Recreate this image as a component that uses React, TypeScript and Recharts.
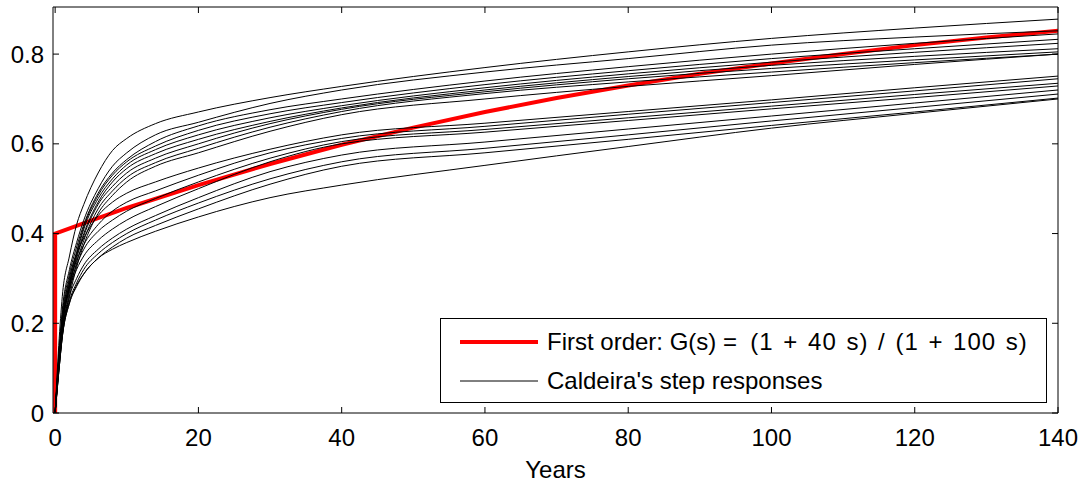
import { LineChart, Line, XAxis, YAxis, Legend } from 'recharts';

// sample times (years) shared by all of Caldeira's step responses
const years = [0, 0.5, 1, 2, 3, 4, 6, 8, 10, 14, 20, 30, 40, 60, 80, 100, 120, 140];

// upper bundle
const u1 = [0, 0.15, 0.26, 0.35, 0.42, 0.465, 0.535, 0.585, 0.612, 0.645, 0.671, 0.703, 0.728, 0.77, 0.805, 0.835, 0.858, 0.878];
const u2 = [0, 0.13, 0.23, 0.32, 0.38, 0.43, 0.5, 0.55, 0.58, 0.62, 0.648, 0.69, 0.72, 0.76, 0.79, 0.82, 0.838, 0.852];
const u3 = [0, 0.12, 0.22, 0.31, 0.37, 0.42, 0.49, 0.535, 0.565, 0.605, 0.64, 0.676, 0.7, 0.74, 0.772, 0.8, 0.824, 0.845];
const u4 = [0, 0.12, 0.21, 0.3, 0.36, 0.415, 0.485, 0.53, 0.56, 0.595, 0.63, 0.667, 0.692, 0.732, 0.763, 0.79, 0.812, 0.833];
const u5 = [0, 0.11, 0.2, 0.29, 0.355, 0.41, 0.478, 0.522, 0.553, 0.587, 0.62, 0.658, 0.685, 0.725, 0.756, 0.782, 0.804, 0.824];
const u6 = [0, 0.11, 0.195, 0.285, 0.35, 0.4, 0.47, 0.515, 0.545, 0.578, 0.61, 0.65, 0.68, 0.72, 0.75, 0.775, 0.795, 0.812];
const u7 = [0, 0.1, 0.19, 0.28, 0.345, 0.395, 0.465, 0.505, 0.535, 0.568, 0.6, 0.645, 0.677, 0.716, 0.745, 0.768, 0.787, 0.805];
const u8 = [0, 0.1, 0.18, 0.27, 0.335, 0.385, 0.455, 0.495, 0.525, 0.558, 0.59, 0.637, 0.672, 0.712, 0.738, 0.76, 0.781, 0.8];
const u9 = [0, 0.09, 0.17, 0.26, 0.325, 0.375, 0.445, 0.485, 0.515, 0.55, 0.58, 0.628, 0.665, 0.7, 0.728, 0.752, 0.777, 0.8];

// lower bundle
const l1 = [0, 0.12, 0.21, 0.3, 0.355, 0.39, 0.44, 0.47, 0.49, 0.515, 0.546, 0.588, 0.62, 0.646, 0.672, 0.698, 0.725, 0.751];
const l2 = [0, 0.115, 0.2, 0.29, 0.34, 0.375, 0.42, 0.45, 0.47, 0.495, 0.53, 0.58, 0.612, 0.639, 0.666, 0.692, 0.718, 0.745];
const l3 = [0, 0.11, 0.195, 0.28, 0.33, 0.365, 0.405, 0.43, 0.45, 0.478, 0.515, 0.568, 0.605, 0.632, 0.658, 0.684, 0.71, 0.735];
const l4 = [0, 0.105, 0.19, 0.275, 0.32, 0.35, 0.385, 0.41, 0.43, 0.46, 0.5, 0.56, 0.6, 0.626, 0.652, 0.678, 0.703, 0.729];
const l5 = [0, 0.1, 0.18, 0.26, 0.3, 0.33, 0.365, 0.39, 0.41, 0.44, 0.48, 0.538, 0.575, 0.604, 0.633, 0.662, 0.691, 0.72];
const l6 = [0, 0.095, 0.175, 0.25, 0.29, 0.32, 0.355, 0.38, 0.4, 0.43, 0.468, 0.522, 0.56, 0.59, 0.62, 0.651, 0.681, 0.711];
const l7 = [0, 0.09, 0.17, 0.245, 0.282, 0.31, 0.345, 0.37, 0.39, 0.418, 0.455, 0.51, 0.55, 0.58, 0.61, 0.641, 0.671, 0.702];
const l8 = [0, 0.09, 0.17, 0.245, 0.285, 0.31, 0.345, 0.365, 0.38, 0.405, 0.437, 0.48, 0.508, 0.552, 0.594, 0.635, 0.668, 0.7];

const caldeira = [u1, u2, u3, u4, u5, u6, u7, u8, u9, l1, l2, l3, l4, l5, l6, l7, l8];

// first order model, jumps to 0.4 at t = 0
const firstOrderYears = [0, 0, 5, 10, 20, 30, 40, 50, 60, 70, 80, 90, 100, 110, 120, 130, 140];
const firstOrderValues = [0, 0.4, 0.429, 0.457, 0.508, 0.555, 0.598, 0.636, 0.671, 0.702, 0.73, 0.756, 0.779, 0.8, 0.82, 0.837, 0.852];

const xTicks = [0, 20, 40, 60, 80, 100, 120, 140];
const yTicks = [0, 0.2, 0.4, 0.6, 0.8];

const FONT = '"Liberation Sans", Arial, sans-serif';
const LEFT = 53;
const RIGHT = 1058;
const TOP = 7;
const BOTTOM = 413;
const TICK = 6;

const toPoints = (ts: number[], vs: number[]) => ts.map((t, i) => ({ t, v: vs[i] }));

const BottomTick = (props: any) => {
  const { x, payload } = props;
  return (
    <g>
      <line x1={x} x2={x} y1={BOTTOM} y2={BOTTOM - TICK} stroke="#000" />
      <text x={x} y={437} textAnchor="middle" dominantBaseline="central" fontSize={24} fontFamily={FONT} fill="#000">
        {payload.value}
      </text>
    </g>
  );
};

const TopTick = (props: any) => {
  const { x } = props;
  return <line x1={x} x2={x} y1={TOP} y2={TOP + TICK} stroke="#000" />;
};

const LeftTick = (props: any) => {
  const { y, payload } = props;
  return (
    <g>
      <line x1={LEFT} x2={LEFT + TICK} y1={y} y2={y} stroke="#000" />
      <text x={LEFT - 9} y={y} textAnchor="end" dominantBaseline="central" fontSize={24} fontFamily={FONT} fill="#000">
        {payload.value}
      </text>
    </g>
  );
};

const RightTick = (props: any) => {
  const { y } = props;
  return <line x1={RIGHT} x2={RIGHT - TICK} y1={y} y2={y} stroke="#000" />;
};

const renderLegend = () => (
  <div
    style={{
      width: 605,
      height: 83,
      border: '1px solid #000',
      background: '#fff',
      fontFamily: FONT,
      fontSize: 24,
      color: '#000',
      position: 'relative',
    }}
  >
    <svg width={110} height={83} style={{ position: 'absolute', left: 0, top: 0 }}>
      <line x1={19} x2={97} y1={23} y2={23} stroke="#ff0000" strokeWidth={4} />
      <line x1={19} x2={97} y1={62} y2={62} stroke="#000" strokeWidth={1} />
    </svg>
    <div style={{ position: 'absolute', left: 106, top: 9, whiteSpace: 'pre', lineHeight: '28px' }}>
      {'First order: G(s) =  '}
      <span style={{ letterSpacing: 1, wordSpacing: 2 }}>{'(1 + 40 s) / (1 + 100 s)'}</span>
    </div>
    <div style={{ position: 'absolute', left: 106, top: 48, whiteSpace: 'pre', lineHeight: '28px' }}>
      {"Caldeira's step responses"}
    </div>
  </div>
);

export default function App() {
  return (
    <div style={{ position: 'absolute', left: 0, top: 0, width: 1087, height: 486, background: '#fff' }}>
      <LineChart width={1087} height={486} margin={{ top: TOP - 1, right: 1087 - RIGHT - 1, bottom: 486 - BOTTOM - 30, left: LEFT - 1 }}>
        <XAxis
          xAxisId="b"
          type="number"
          dataKey="t"
          domain={[-0.3, 140]}
          ticks={xTicks}
          interval={0}
          allowDataOverflow
          height={30}
          axisLine={{ stroke: '#000' }}
          tickLine={false}
          tick={(p: any) => <BottomTick {...p} />}
          label={{ value: 'Years', position: 'bottom', offset: 18, fill: '#000', fontSize: 24, fontFamily: FONT }}
        />
        <XAxis
          xAxisId="top"
          orientation="top"
          type="number"
          dataKey="t"
          domain={[-0.3, 140]}
          ticks={xTicks}
          interval={0}
          allowDataOverflow
          height={1}
          axisLine={{ stroke: '#000' }}
          tickLine={false}
          tick={(p: any) => <TopTick {...p} />}
        />
        <YAxis
          yAxisId="l"
          type="number"
          domain={[0, 0.905]}
          ticks={yTicks}
          interval={0}
          allowDataOverflow
          width={1}
          axisLine={{ stroke: '#000' }}
          tickLine={false}
          tick={(p: any) => <LeftTick {...p} />}
        />
        <YAxis
          yAxisId="r"
          orientation="right"
          type="number"
          domain={[0, 0.905]}
          ticks={yTicks}
          interval={0}
          allowDataOverflow
          width={1}
          axisLine={{ stroke: '#000' }}
          tickLine={false}
          tick={(p: any) => <RightTick {...p} />}
        />
        <Line
          xAxisId="b"
          yAxisId="l"
          data={toPoints(firstOrderYears, firstOrderValues)}
          dataKey="v"
          type="linear"
          stroke="#ff0000"
          strokeWidth={4}
          dot={false}
          activeDot={false}
          isAnimationActive={false}
          name="First order"
        />
        {caldeira.map((vals, i) => (
          <Line
            key={`c${i}`}
            xAxisId="b"
            yAxisId="l"
            data={toPoints(years, vals)}
            dataKey="v"
            type="monotone"
            stroke="#000"
            strokeWidth={1}
            dot={false}
            activeDot={false}
            isAnimationActive={false}
            name={`Caldeira ${i + 1}`}
          />
        ))}
        <Legend
          layout="horizontal"
          verticalAlign="middle"
          align="center"
          content={renderLegend}
          wrapperStyle={{ left: 440, top: 318, width: 607, height: 85 }}
        />
      </LineChart>
    </div>
  );
}
